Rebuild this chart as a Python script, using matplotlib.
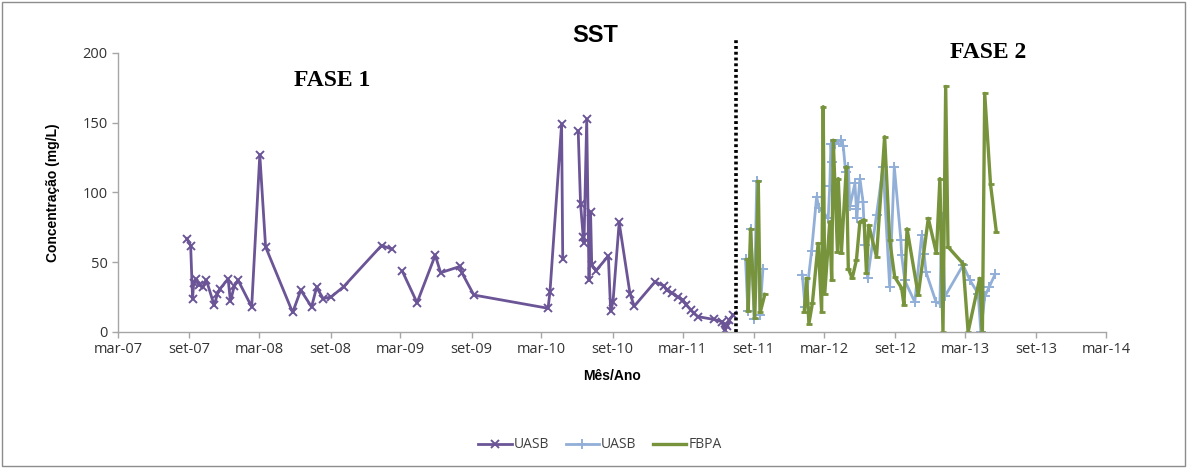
import matplotlib
matplotlib.use('Agg')
import matplotlib.pyplot as plt
import matplotlib.patches as patches
import numpy as np
import pandas as pd

# UASB, fase 1 (None = sem amostra, quebra a linha)
datas_uasb1 = ['2007-08-26', '2007-09-05', '2007-09-10', '2007-09-13', '2007-09-18',
               '2007-09-27', '2007-10-07', '2007-10-16', '2007-11-05', '2007-11-13',
               '2007-11-20', '2007-12-11', '2007-12-17', '2007-12-27', '2008-01-06',
               '2008-02-10', '2008-03-02', '2008-03-17', '2008-05-26', '2008-06-16',
               '2008-07-14', '2008-07-27', '2008-08-13', '2008-09-02', '2008-10-05',
               '2009-01-11', '2009-02-06', '2009-02-20', '2009-03-06', '2009-04-13',
               '2009-05-30', '2009-06-13', '2009-08-02', '2009-08-08', '2009-09-07',
               '2010-03-18', '2010-03-23', '2010-04-22', '2010-04-25', '2010-05-20',
               '2010-06-04', '2010-06-10', '2010-06-17', '2010-06-19', '2010-06-26',
               '2010-07-02', '2010-07-06', '2010-07-09', '2010-07-20', '2010-08-21',
               '2010-08-27', '2010-09-02', '2010-09-18', '2010-10-16', '2010-10-27',
               '2010-12-20', '2011-01-12', '2011-01-19', '2011-02-01', '2011-02-17',
               '2011-03-01', '2011-03-11', '2011-03-22', '2011-03-30', '2011-04-10',
               '2011-05-21', '2011-06-10', '2011-06-19', '2011-06-21', '2011-06-25',
               '2011-06-30', '2011-07-09']
sst_uasb1 = [67, 62, 24, 35, 38,
             34, 32.5, 37, 19, 27,
             31, 38, 22, 33, 37,
             18, 127, 61, 14, 30,
             18, 32, 24, 25, 32.5,
             62, 59.5, None, 43.5, 21,
             55, 42.5, 47, 42, 26.5,
             17, 29, 149, 52, None,
             144, 92, 68, 64, 152.5,
             37, 86, 48, 44, 54.5,
             15, 21.5, 78.5, 27.5, 18.5,
             36, 33, 30, 28, 25,
             23, 19.5, 16, 13.5, 11,
             9, 7.5, 1.5, 5, 4,
             8.5, 12]

# UASB, fase 2
datas_uasb2 = ['2011-08-11', '2011-08-17', '2011-08-25', '2011-09-02', '2011-09-09',
               '2011-09-17', '2011-09-25', '2011-11-15',
               '2012-01-05', '2012-01-12', '2012-01-29', '2012-02-11', '2012-02-17',
               '2012-03-12', '2012-03-16', '2012-03-19', '2012-03-22', '2012-03-29',
               '2012-04-15', '2012-04-20', '2012-04-26', '2012-05-03', '2012-05-07',
               '2012-05-20', '2012-05-24', '2012-05-25', '2012-06-02', '2012-06-10',
               '2012-06-15', '2012-06-22', '2012-07-15', '2012-08-01', '2012-08-18',
               '2012-08-30', '2012-09-16', '2012-09-18', '2012-09-26', '2012-10-22',
               '2012-11-09', '2012-11-15', '2012-11-20', '2012-12-16', '2012-12-26',
               '2012-12-31', '2013-01-08', '2013-02-24', '2013-03-14', '2013-04-04',
               '2013-04-11', '2013-04-21', '2013-05-03', '2013-05-18']
sst_uasb2 = [52, 15, 74, 9, 108,
             12, 45, None,
             41, 18, 58, 97, 89,
             81.5, 105, 135, 122, 135,
             137.5, 133, 115, 118.5, 90,
             106.5, 88.5, 81.5, 110, 93.5,
             62.5, 38.5, 84, 118.5, 32.5,
             118.5, 66, 55, 37, 21.5,
             69.5, 56, 43, 21.5, 20.5,
             82.5, 25.5, 48, 37, 27.5,
             0, 25.5, 32.5, 41.5]

# FBPA, fase 2
datas_fbpa = ['2011-08-16', '2011-08-18', '2011-08-24', '2011-09-04', '2011-09-13',
              '2011-09-18', '2011-09-30', '2011-11-15',
              '2012-01-10', '2012-01-16', '2012-01-22', '2012-01-31', '2012-02-15',
              '2012-02-24', '2012-02-28', '2012-03-03', '2012-03-16', '2012-03-21',
              '2012-03-25', '2012-04-05', '2012-04-07', '2012-04-15', '2012-04-28',
              '2012-05-03', '2012-05-13', '2012-05-24', '2012-06-02', '2012-06-13',
              '2012-06-19', '2012-06-25', '2012-07-15', '2012-08-05', '2012-08-18',
              '2012-08-31', '2012-09-18', '2012-09-24', '2012-10-02', '2012-10-31',
              '2012-11-26', '2012-12-17', '2012-12-26', '2013-01-03', '2013-01-10',
              '2013-01-16', '2013-02-24', '2013-03-09', '2013-04-08', '2013-04-15',
              '2013-04-21', '2013-05-06', '2013-05-21']
sst_fbpa = [52, 15, 74, 10, 108,
            14, 27, None,
            14.5, 38.5, 6, 20.5, 63.5,
            14.5, 161.5, 27.5, 79, 37,
            137.5, 57.5, 110, 56.5, 118.5,
            45.5, 38.5, 51.5, 79, 80.5,
            42, 76.5, 54, 140, 66,
            39.5, 31.5, 19.5, 74, 26.5,
            81.5, 56.5, 110, 0, 176,
            61, 49, 0, 38.5, 0,
            171, 106, 72]

data_fase2 = '2011-07-18'   # inicio da fase 2 (linha pontilhada)
meses = ['mar', 'set']
anos = ['07', '08', '09', '10', '11', '12', '13', '14']


def serie(datas, valores):
    x = pd.to_datetime(datas)
    y = np.array([np.nan if v is None else v for v in valores], dtype=float)
    return x, y


fig = plt.figure(figsize=(11.87, 4.68), dpi=100)
ax = fig.add_axes([0.0994, 0.2906, 0.8324, 0.5962])

x1, y1 = serie(datas_uasb1, sst_uasb1)
x2, y2 = serie(datas_uasb2, sst_uasb2)
x3, y3 = serie(datas_fbpa, sst_fbpa)

ax.plot(x1, y1, color='#6B5596', lw=2, marker='x', ms=6, mew=1.4, label='UASB')
ax.plot(x2, y2, color='#92AFD8', lw=2, marker='+', ms=7, mew=1.4, label='UASB')
ax.plot(x3, y3, color='#77933C', lw=2.4, marker='_', ms=5, mew=2, label='FBPA')

# linha que separa as fases
xf = pd.to_datetime(data_fase2)
ax.plot([xf, xf], [0, 210.5], color='black', lw=2.6, ls=(0, (0.8, 0.8)),
        clip_on=False, zorder=5)

ticks = []
rotulos = []
for i, a in enumerate(anos):
    for m, mm in zip(meses, ['03', '09']):
        if a == '14' and m == 'set':
            continue
        ticks.append(pd.Timestamp('20' + a + '-' + mm + '-01'))
        rotulos.append(m + '-' + a)
ax.set_xticks(ticks)
ax.set_xticklabels(rotulos)
ax.set_xlim(ticks[0], ticks[-1])
ax.set_ylim(0, 200)
ax.set_yticks([0, 50, 100, 150, 200])

for s in ['top', 'right']:
    ax.spines[s].set_visible(False)
for s in ['left', 'bottom']:
    ax.spines[s].set_color('#A6A6A6')
    ax.spines[s].set_linewidth(1)
ax.tick_params(axis='both', colors='#A6A6A6', length=4, width=1, direction='out',
               labelcolor='#333333', labelsize=10.5)
for t in ax.get_xticklabels() + ax.get_yticklabels():
    t.set_fontfamily('Open Sans')

ax.set_ylabel('Concentração (mg/L)', fontsize=10, fontweight='bold',
              family='Liberation Sans', labelpad=16)
ax.set_xlabel('Mês/Ano', fontsize=10, fontweight='bold', family='Liberation Sans',
              labelpad=8)

fig.text(595 / 1187, 1 - 35 / 468, 'SST', ha='center', va='center', fontsize=17,
         fontweight='bold', family='Liberation Sans')
fig.text(332 / 1187, 1 - 80 / 468, 'FASE 1', ha='center', va='center', fontsize=17,
         fontweight='bold', family='Liberation Serif')
fig.text(988 / 1187, 1 - 52 / 468, 'FASE 2', ha='center', va='center', fontsize=17,
         fontweight='bold', family='Liberation Serif')

leg = fig.legend(loc='center', bbox_to_anchor=(600 / 1187, 1 - 445 / 468), ncol=3,
                 frameon=False, handlelength=2.4, columnspacing=1.2, handletextpad=0.15,
                 prop={'family': 'Open Sans', 'size': 10})
leg.get_lines()[2].set_marker('None')
for t in leg.get_texts():
    t.set_color('#404040')

# moldura do grafico
fig.patches.append(patches.Rectangle((2 / 1187, 2 / 468), 1 - 4 / 1187, 1 - 4 / 468,
                                     transform=fig.transFigure, fill=False,
                                     edgecolor='#8C8C8C', lw=1))

fig.savefig('out.png', dpi=100)
